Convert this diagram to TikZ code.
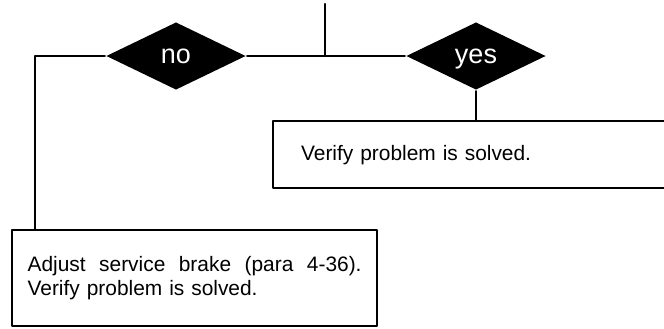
\documentclass[tikz,border=0pt]{standalone}
\usepackage{fontspec}
\setmainfont{Liberation Sans}
\usetikzlibrary{shapes.geometric}
\begin{document}
\begin{tikzpicture}[line cap=round,line join=round,x=0.5pt,y=-0.5pt,line width=1.1pt,
	choice/.style={diamond,fill=black,text=white,inner sep=0pt,minimum width=70pt,minimum height=34pt,text height=7pt,text depth=0pt,font=\fontsize{13.5}{15}\selectfont},
	action/.style={draw,rectangle,anchor=north west,inner ysep=0pt,align=left,font=\fontsize{10.45}{11.6}\selectfont}]
			\useasboundingbox (0,0) rectangle (664,328);
			\clip (0,0) rectangle (664,328);
			%losanges
			\node[choice] (no) at (176,56) {no};
			\node[choice] (yes) at (476,56) {yes};
			%cases
			\node[action,text width=185pt,inner xsep=14pt,minimum height=33.5pt] (solved) at (272,120) {Verify problem is solved.};
			\node[action,text width=167pt,inner xsep=7.75pt,minimum height=48pt] (adjust) at (11,229)
				{\makebox[167pt][s]{\spaceskip=0pt Adjust service brake (para 4-36).}\\Verify problem is solved.};
			%liaisons
			\coordinate (top) at (325,4);
			\coordinate (join) at (325,56);
			\coordinate (corner) at (35,56);
			\draw (top)--(join);
			\draw (no.east)--(yes.west);
			\draw (no.west)--(corner)--(corner |- adjust.north);
			\draw (yes.south)--(yes.south |- solved.north);
\end{tikzpicture}
\end{document}
